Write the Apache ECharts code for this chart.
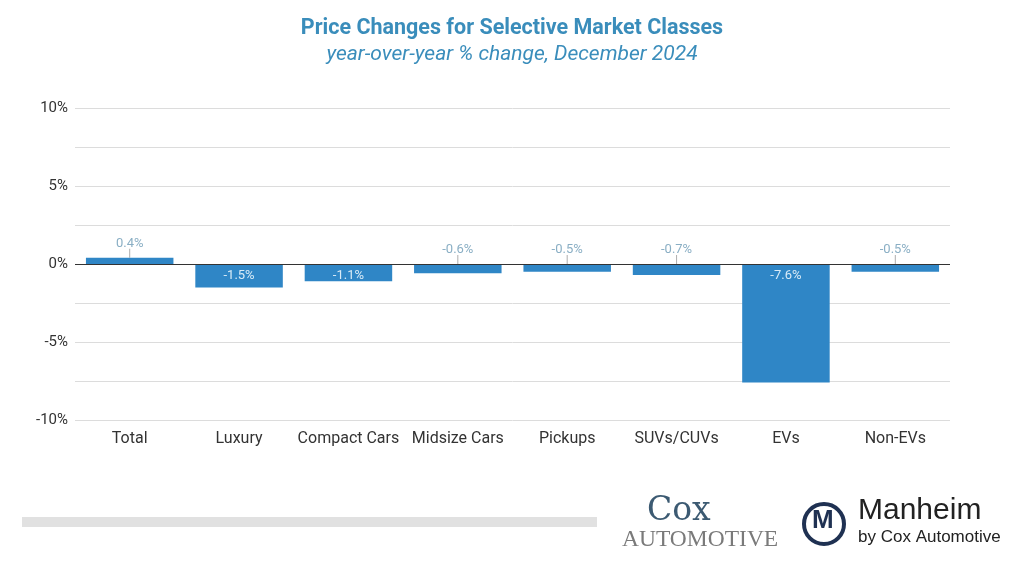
<!DOCTYPE html>
<html><head><meta charset="utf-8">
<script src="https://cdn.jsdelivr.net/npm/echarts@6/dist/echarts.min.js"></script>
<style>html,body{margin:0;padding:0;background:#fff}#c{width:1024px;height:568px}</style>
</head><body><div id="c"></div>
<script>
var categories = ['Total','Luxury','Compact Cars','Midsize Cars','Pickups','SUVs/CUVs','EVs','Non-EVs'];
var values = [0.4,-1.5,-1.1,-0.6,-0.5,-0.7,-7.6,-0.5];
var yTicks = [-10,-5,0,5,10];

var chart = echarts.init(document.getElementById('c'));
var barData = values.map(function(v){
  var inside = v <= -1;
  return {value: v, label: {show: inside, position: 'insideTop', distance: 5, color: '#d9ebf7', fontFamily: 'Roboto', fontSize: 13, formatter: v + '%'}};
});
var tickData = values.map(function(v, i){
  return v > -1 ? [categories[i], Math.max(v, 0)] : null;
}).filter(function(d){return d;});
var tickLabels = {};
values.forEach(function(v,i){ tickLabels[categories[i]] = v; });

chart.setOption({
  animation: false,
  title: [
    {text: 'Price Changes for Selective Market Classes', left: 'center', top: 13,
     textStyle: {fontFamily: 'Roboto', fontSize: 21.5, fontWeight: 'bold', color: '#3a8dbb'}},
    {text: 'year-over-year % change, December 2024', left: 'center', top: 39,
     textStyle: {fontFamily: 'Roboto', fontSize: 21, fontStyle: 'italic', fontWeight: 'normal', color: '#3a8dbb'}}
  ],
  grid: {left: 75, right: 74, top: 108, bottom: 148},
  xAxis: {type: 'category', data: categories,
    axisLine: {show: false, onZero: false}, axisTick: {show: false},
    axisLabel: {interval: 0, margin: 11, fontFamily: 'Roboto', fontSize: 16, color: '#333'}},
  yAxis: {type: 'value', min: -10, max: 10, interval: 2.5,
    axisLine: {show: false}, axisTick: {show: false},
    splitLine: {lineStyle: {color: '#dcdcdc', width: 1}},
    axisLabel: {margin: 7, fontFamily: 'Roboto', fontSize: 15, color: '#333',
      formatter: function(v){ return yTicks.indexOf(v) >= 0 ? v + '%' : ''; }}},
  series: [
    {type: 'bar', data: barData, barCategoryGap: '20%', itemStyle: {color: '#2f86c6'},
     markLine: {silent: true, symbol: 'none', label: {show: false},
       lineStyle: {color: '#333', width: 1.2, type: 'solid'}, data: [{yAxis: 0}]}},
    {type: 'scatter', data: tickData, symbol: 'rect', symbolSize: [1, 9], symbolOffset: [0, -4.5],
     itemStyle: {color: '#9a9a9a'}, z: 3,
     label: {show: true, position: 'top', distance: -1, color: '#6b9ab5', fontFamily: 'Roboto', fontSize: 13,
       formatter: function(p){ return tickLabels[p.value[0]] + '%'; }}}
  ],
  graphic: [
    {type: 'rect', shape: {x: 22, y: 517, width: 575, height: 10}, style: {fill: '#e1e1e1'}},
    {type: 'text', left: 647, top: 495, style: {text: 'Cox', font: '33px "DejaVu Serif", serif', fill: '#3c5a72'}},
    {type: 'text', left: 622, top: 528, style: {text: 'AUTOMOTIVE', font: '23.5px "Liberation Serif", serif', fill: '#7a7a7a'}},
    {type: 'circle', shape: {cx: 824, cy: 524, r: 20}, style: {fill: '#fff', stroke: '#1f3152', lineWidth: 4}},
    {type: 'text', left: 812, top: 508, style: {text: 'M', font: 'bold 26px "Liberation Sans"', fill: '#1f3152'}},
    {type: 'text', left: 858, top: 496, style: {text: 'Manheim', font: '30px "Liberation Sans"', fill: '#222'}},
    {type: 'text', left: 858, top: 529, style: {text: 'by Cox Automotive', font: '17px "Liberation Sans"', fill: '#222'}}
  ]
});
</script></body></html>
